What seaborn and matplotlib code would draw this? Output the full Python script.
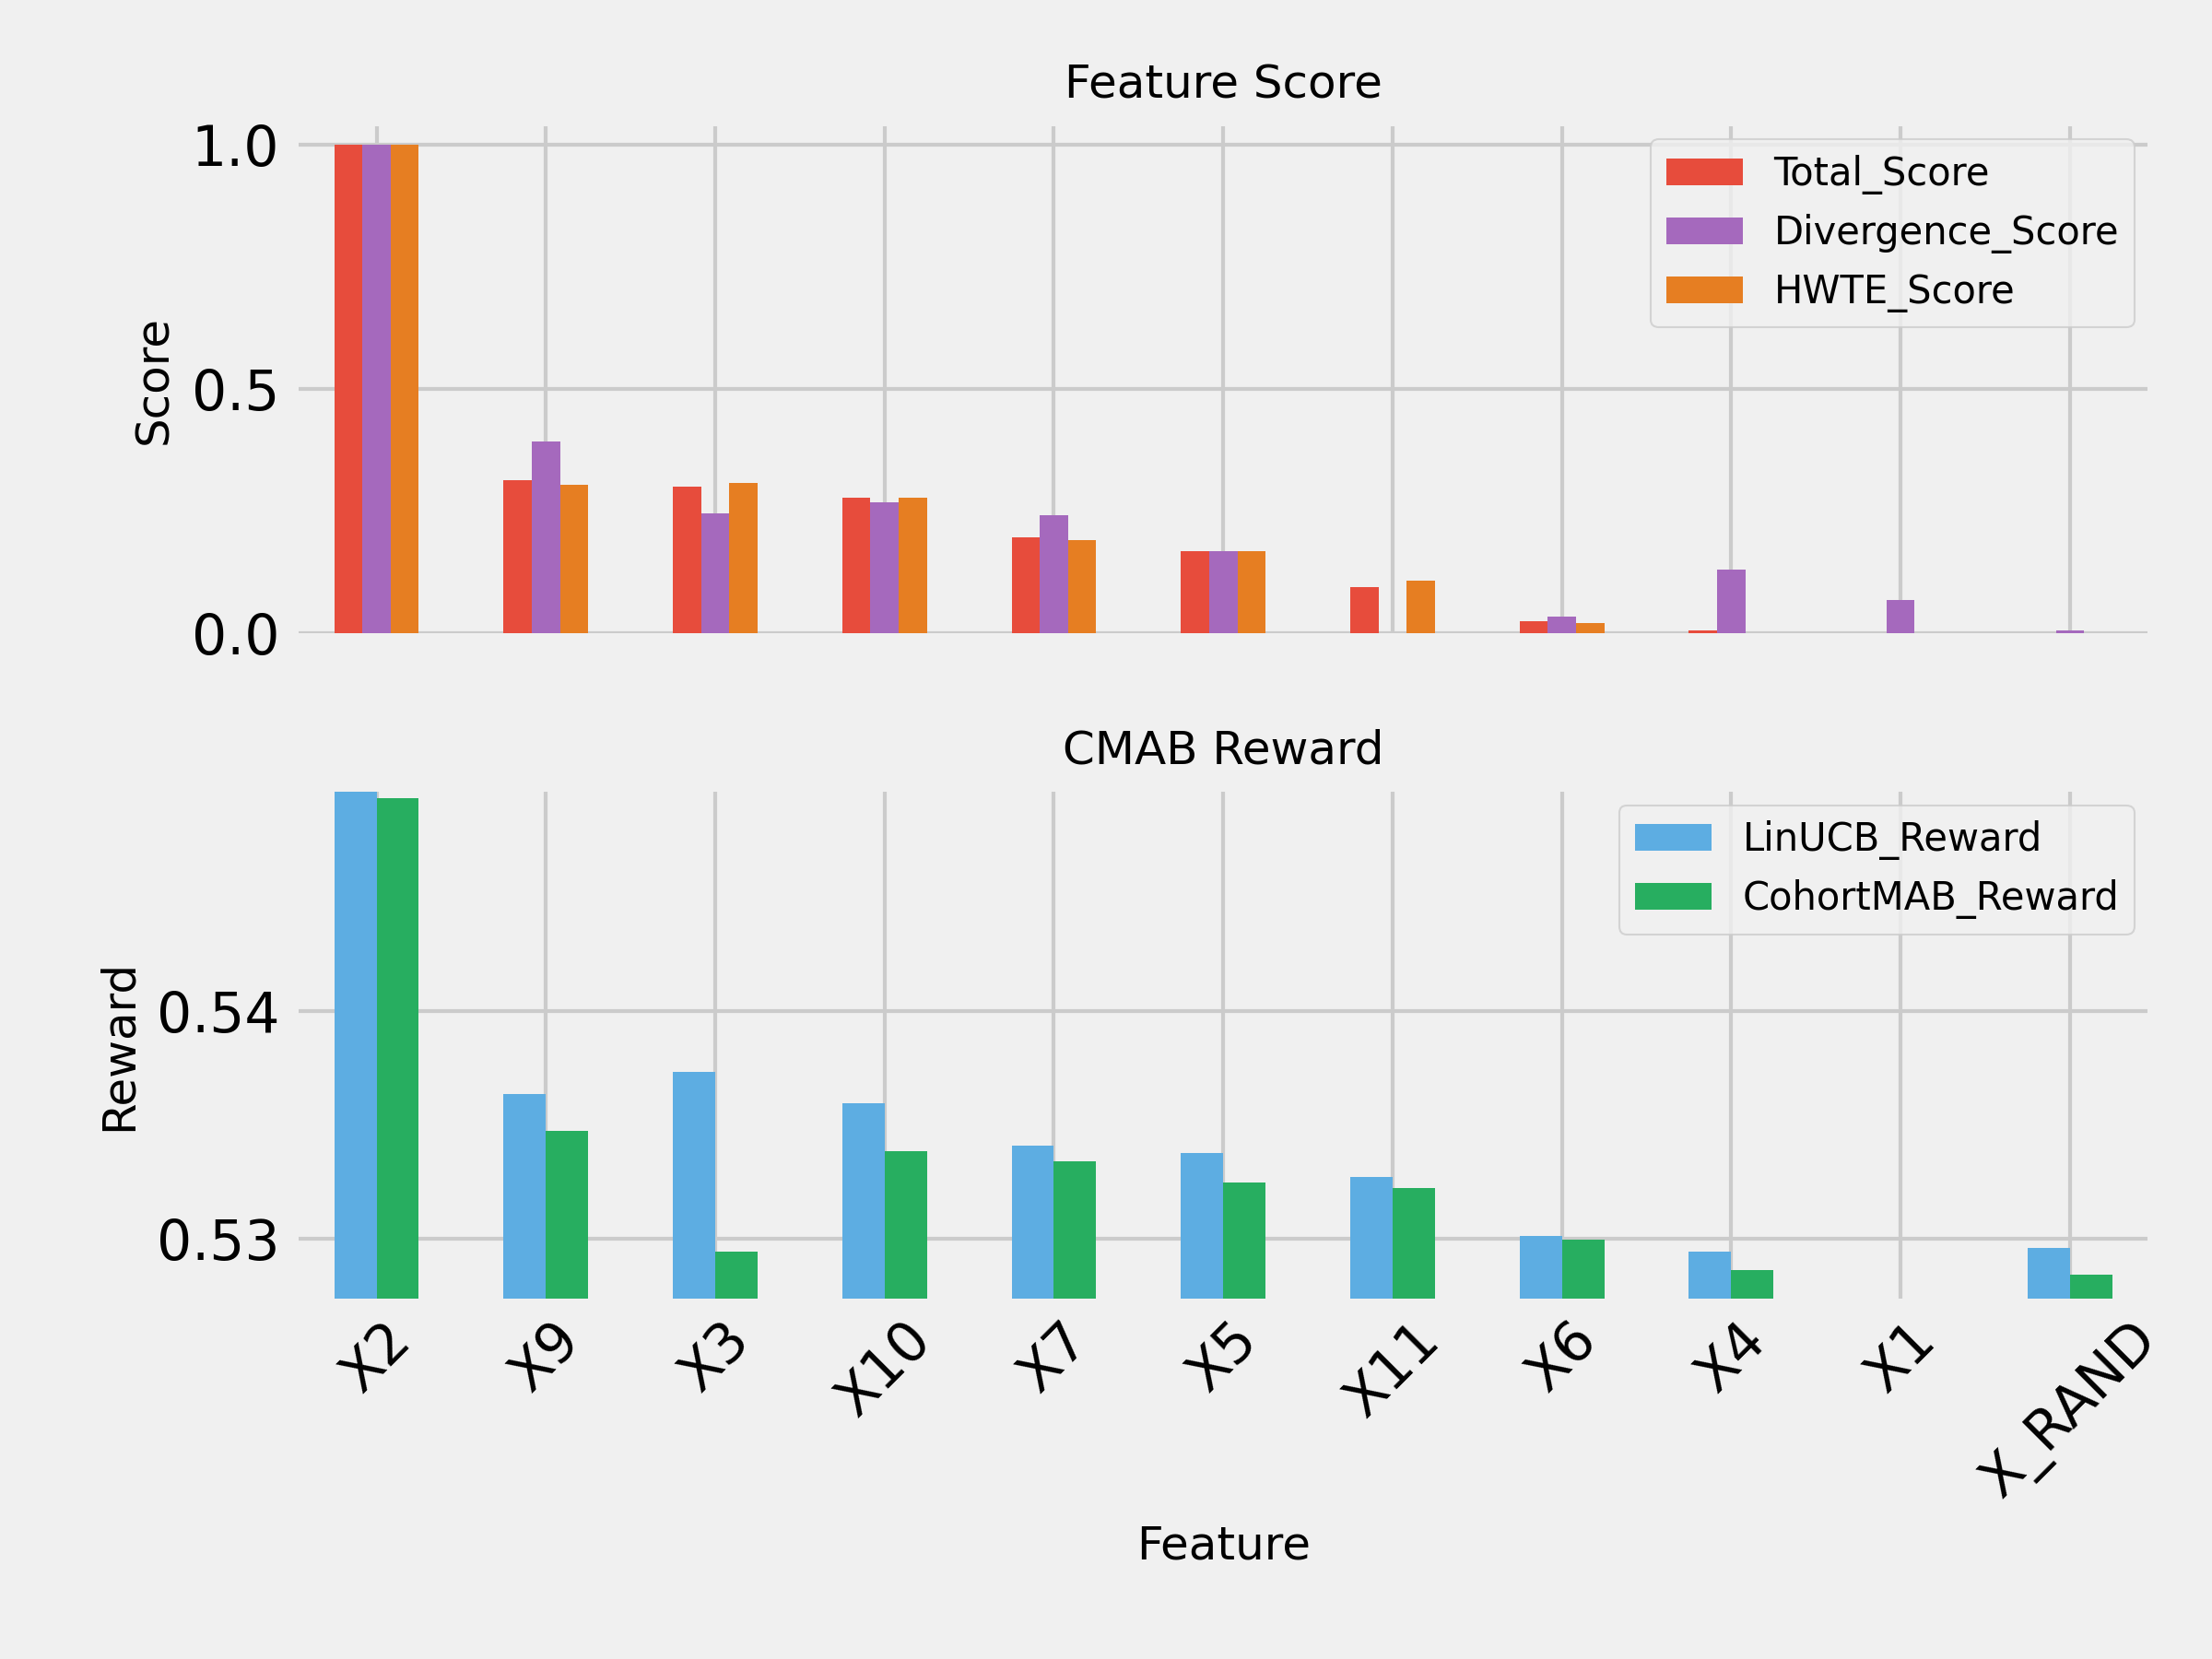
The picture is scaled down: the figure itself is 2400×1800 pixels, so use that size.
import matplotlib
matplotlib.use('Agg')
import matplotlib.pyplot as plt
import seaborn as sns
import pandas as pd
import numpy as np

# feature order as shown on the x axis
features = ["X2", "X9", "X3", "X10", "X7", "X5", "X11", "X6", "X4", "X1", "X_RAND"]

# normalised scores (top panel)
total_score = [1.0, 0.313, 0.301, 0.277, 0.197, 0.169, 0.095, 0.024, 0.006, 0.0, 0.0]
divergence_score = [1.0, 0.393, 0.246, 0.268, 0.242, 0.169, 0.0, 0.034, 0.130, 0.068, 0.006]
hwte_score = [1.0, 0.303, 0.307, 0.277, 0.191, 0.169, 0.107, 0.022, 0.0, 0.0, 0.0]

# bandit rewards (bottom panel), X1 has no reward
linucb_reward = [0.54963, 0.53634, 0.53732, 0.53594, 0.53408, 0.53375, 0.53270, 0.53011, 0.52942, np.nan, 0.52958]
cohortmab_reward = [0.54933, 0.53472, 0.52942, 0.53384, 0.53339, 0.53246, 0.53222, 0.52995, 0.52861, np.nan, 0.52841]

bg_color = "#f0f0f0"
score_palette = {"Total_Score": "#e74c3c", "Divergence_Score": "#a569bd", "HWTE_Score": "#e67e22"}
reward_palette = {"LinUCB_Reward": "#5dade2", "CohortMAB_Reward": "#27ae60"}

plt.style.use("fivethirtyeight")
plt.rcParams.update({
    "figure.facecolor": bg_color,
    "axes.facecolor": bg_color,
    "savefig.facecolor": bg_color,
    "font.family": ["DejaVu Sans"],
    "grid.color": "#cbcbcb",
    "grid.linewidth": 1.0,
})

score_df = pd.DataFrame({
    "Feature": features,
    "Total_Score": total_score,
    "Divergence_Score": divergence_score,
    "HWTE_Score": hwte_score,
})
score_long = score_df.melt(id_vars="Feature", var_name="Metric", value_name="Score")

reward_df = pd.DataFrame({
    "Feature": features,
    "LinUCB_Reward": linucb_reward,
    "CohortMAB_Reward": cohortmab_reward,
})
reward_long = reward_df.melt(id_vars="Feature", var_name="Metric", value_name="Reward")

fig, (ax1, ax2) = plt.subplots(2, 1, figsize=(8, 6), dpi=300, sharex=True)
fig.subplots_adjust(left=0.135, right=0.971, top=0.924, bottom=0.217, hspace=0.312)

sns.barplot(data=score_long, x="Feature", y="Score", hue="Metric", order=features,
            palette=score_palette, width=0.5, gap=0, errorbar=None,
            saturation=1, linewidth=0, ax=ax1)
sns.barplot(data=reward_long, x="Feature", y="Reward", hue="Metric", order=features,
            palette=reward_palette, width=0.5, gap=0, errorbar=None,
            saturation=1, linewidth=0, ax=ax2)

# top panel
ax1.set_ylim(0, 1.0375)
ax1.set_yticks([0.0, 0.5, 1.0])
ax1.set_title("Feature Score", fontsize=12, pad=7.2)
ax1.set_ylabel("Score", fontsize=12)
ax1.set_xlabel("")

# bottom panel, zoomed to the reward range
rewards = np.concatenate([linucb_reward, cohortmab_reward])
ax2.set_ylim(np.nanmin(rewards) * 0.998, np.nanmax(rewards))
ax2.set_yticks([0.53, 0.54])
ax2.set_title("CMAB Reward", fontsize=12, pad=7.2)
ax2.set_ylabel("Reward", fontsize=12)
ax2.set_xlabel("Feature", fontsize=12)

for ax in (ax1, ax2):
    ax.set_xlim(-0.46, len(features) - 0.54)
    ax.grid(True, axis="both")
    ax.set_axisbelow(True)
    for s in ax.spines.values():
        s.set_visible(False)
    ax.tick_params(axis="both", length=0, labelsize=14.4)
    ax.tick_params(axis="y", pad=5)
    handles, labels = ax.get_legend_handles_labels()
    ax.legend(handles, labels, loc="upper right", fontsize=10, fancybox=True,
              framealpha=0.8, facecolor=bg_color, edgecolor="#cccccc",
              borderaxespad=0.35)

ax2.tick_params(axis="x", rotation=45)
for lbl in ax2.get_xticklabels():
    lbl.set_ha("center")

plt.savefig("out.png", dpi=300, facecolor=bg_color)
plt.close()
